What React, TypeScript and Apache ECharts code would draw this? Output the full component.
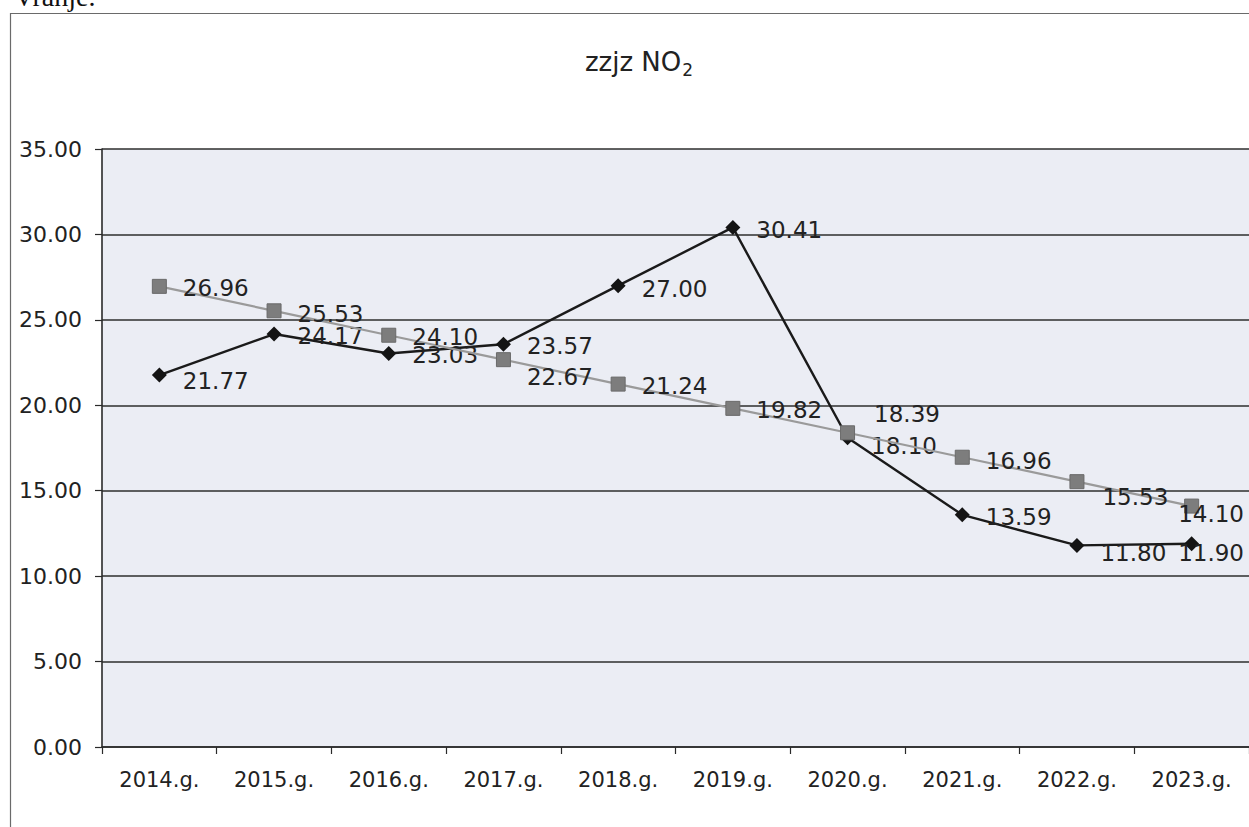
import React, { useEffect, useRef } from "react";
import * as echarts from "echarts";

const categories = [
  "2014.g.", "2015.g.", "2016.g.", "2017.g.", "2018.g.",
  "2019.g.", "2020.g.", "2021.g.", "2022.g.", "2023.g.",
];
const trendValues = [26.96, 25.53, 24.1, 22.67, 21.24, 19.82, 18.39, 16.96, 15.53, 14.1];
const measuredValues = [21.77, 24.17, 23.03, 23.57, 27.0, 30.41, 18.1, 13.59, 11.8, 11.9];
const yMin = 0;
const yMax = 35;
const yStep = 5;
const titleMain = "zzjz NO";
const titleSub = "2";
const pageText = "Vranje.";

// label nudges (style only)
const trendLabelNudge: number[][] = [[0, 2], [0, 3], [0, 2], [0, 17], [0, 2], [0, 2], [3, -19], [0, 4], [2, 15], [-37, 8]];
const measuredLabelNudge: number[][] = [[0, 6], [0, 2], [0, 1], [0, 2], [0, 3], [0, 3], [0, 8], [0, 2], [0, 8], [-37, 9]];

const FONT = "DejaVu Sans";

export default function App() {
  const ref = useRef<HTMLDivElement>(null);
  useEffect(() => {
    if (!ref.current) return;
    const chart = echarts.init(ref.current, null, { renderer: "svg" });
    const labelBase = {
      show: true,
      position: "right" as const,
      distance: 16,
      fontFamily: FONT,
      fontSize: 23,
      color: "#222",
      formatter: (p: any) => Number(p.value).toFixed(2),
    };
    chart.setOption({
      animation: false,
      backgroundColor: "#ffffff",
      graphic: [
        {
          type: "rect",
          z: 0,
          shape: { x: 10.5, y: 13.5, width: 1300, height: 900 },
          style: { fill: "none", stroke: "#6a6a6a", lineWidth: 1.2 },
        },
        {
          type: "text",
          x: 14,
          y: 10,
          style: {
            text: pageText,
            fontFamily: "Liberation Serif",
            fontSize: 28,
            fill: "#111",
            verticalAlign: "bottom",
          },
        },
        {
          type: "text",
          x: 639,
          y: 62,
          style: {
            text: "{a|" + titleMain + "}{b|" + titleSub + "}",
            align: "center",
            verticalAlign: "middle",
            rich: {
              a: { fontFamily: FONT, fontSize: 26, fill: "#222", color: "#222" },
              b: { fontFamily: FONT, fontSize: 17, fill: "#222", color: "#222", padding: [15, 0, 0, 1] },
            },
          },
        },
      ],
      grid: {
        left: 102,
        right: -5,
        top: 149,
        bottom: 80,
        show: true,
        backgroundColor: "#ebedf4",
        borderWidth: 0,
      },
      xAxis: {
        type: "category",
        data: categories,
        boundaryGap: true,
        axisLine: { show: true, lineStyle: { color: "#2a2a2a", width: 1.6 } },
        axisTick: { show: true, length: 7, lineStyle: { color: "#2a2a2a", width: 1.2 } },
        axisLabel: { margin: 22, fontFamily: FONT, fontSize: 21, color: "#222" },
        splitLine: { show: false },
      },
      yAxis: {
        type: "value",
        min: yMin,
        max: yMax,
        interval: yStep,
        axisLine: { show: true, lineStyle: { color: "#2a2a2a", width: 1.6 } },
        axisTick: { show: true, length: 7, lineStyle: { color: "#2a2a2a", width: 1.2 } },
        axisLabel: {
          margin: 20,
          fontFamily: FONT,
          fontSize: 22,
          color: "#222",
          formatter: (v: number) => v.toFixed(2),
        },
        splitLine: { show: true, lineStyle: { color: "#2e2e2e", width: 1.6 } },
      },
      series: [
        {
          name: "measured",
          type: "line",
          data: measuredValues.map((v, i) => ({ value: v, label: { offset: measuredLabelNudge[i] } })),
          symbol: "diamond",
          symbolSize: 15,
          lineStyle: { color: "#1a1a1a", width: 2.4 },
          itemStyle: { color: "#141414" },
          label: labelBase,
          z: 2,
        },
        {
          name: "trend",
          type: "line",
          data: trendValues.map((v, i) => ({ value: v, label: { offset: trendLabelNudge[i] } })),
          symbol: "rect",
          symbolSize: 14,
          lineStyle: { color: "#9a9a9a", width: 2.2 },
          itemStyle: { color: "#7d7d7d", borderColor: "#6a6a6a", borderWidth: 1 },
          label: labelBase,
          z: 3,
        },
      ],
    });
    return () => chart.dispose();
  }, []);
  return (
    <div
      ref={ref}
      style={{ position: "fixed", left: 0, top: 0, width: 1249, height: 827, background: "#fff" }}
    />
  );
}
